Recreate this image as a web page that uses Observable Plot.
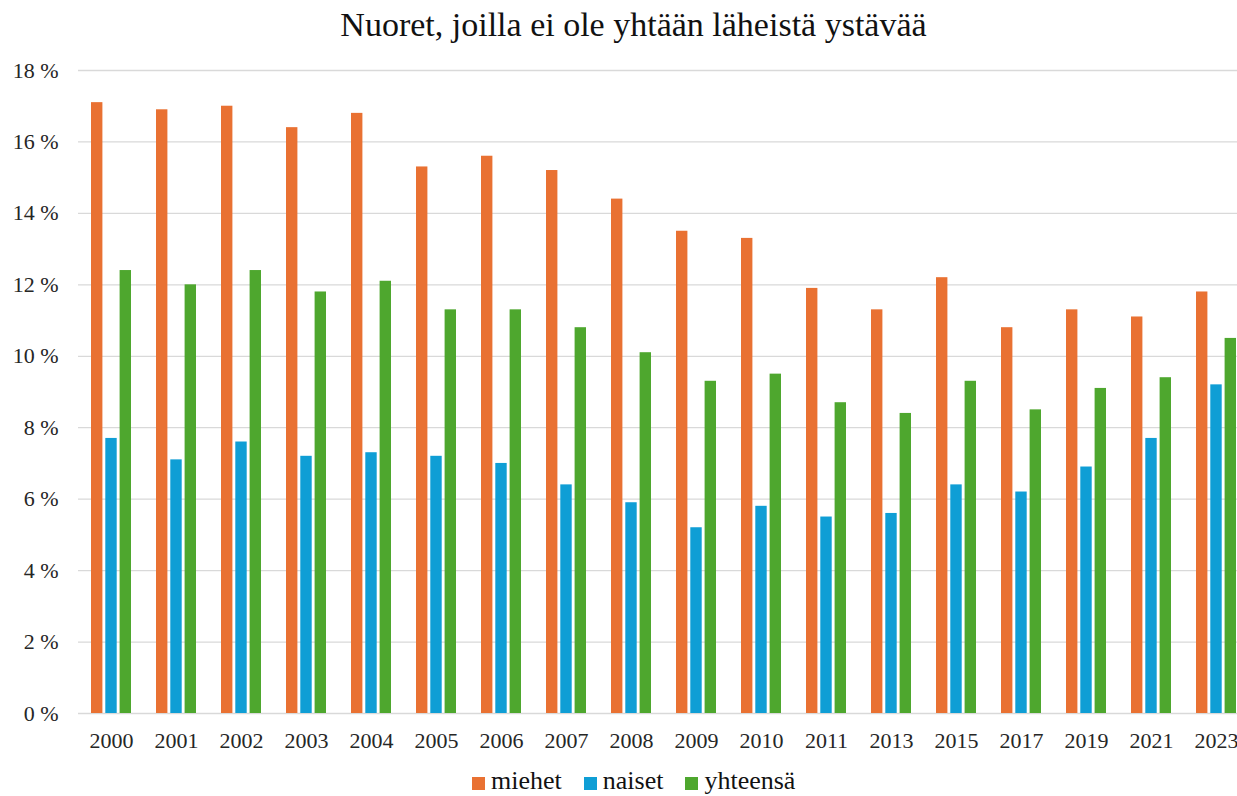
<!DOCTYPE html>
<html>
<head>
<meta charset="utf-8">
<script src="https://cdn.jsdelivr.net/npm/d3@7"></script>
<script src="https://cdn.jsdelivr.net/npm/@observablehq/plot@0.6"></script>
<style>
  html, body { margin: 0; padding: 0; background: #fff; overflow: hidden; width: 1237px; height: 796px; }
  body { font-family: "Liberation Serif", "Times New Roman", serif; position: relative; }
  #title { position: absolute; left: 0; top: 0; width: 1237px; height: 50px; text-align: center; padding-left: 30px; box-sizing: border-box; font-size: 34px; line-height: 50px; color: #111; font-family: "Liberation Serif", serif !important; }
  #chart { position: absolute; left: 0; top: 50px; }
  #chart svg, #chart svg text { font-family: "Liberation Serif", serif !important; }
  #legend { position: absolute; left: 472px; top: 766px; display: flex; align-items: center; font-size: 26px; color: #111; font-family: "Liberation Serif", serif !important; }
  .item { display: flex; align-items: center; margin-right: 22px; }
  .item span { font-family: "Liberation Serif", serif !important; }
  .sw { width: 13px; height: 13px; margin-right: 6px; margin-top: 4px; }
</style>
</head>
<body>
<div id="title">Nuoret, joilla ei ole yhtään läheistä ystävää</div>
<div id="chart"></div>
<div id="legend"></div>
<script>
const years = ["2000","2001","2002","2003","2004","2005","2006","2007","2008","2009","2010","2011","2013","2015","2017","2019","2021","2023"];
const miehet = [17.1,16.9,17.0,16.4,16.8,15.3,15.6,15.2,14.4,13.5,13.3,11.9,11.3,12.2,10.8,11.3,11.1,11.8];
const naiset = [7.7,7.1,7.6,7.2,7.3,7.2,7.0,6.4,5.9,5.2,5.8,5.5,5.6,6.4,6.2,6.9,7.7,9.2];
const yhteensa = [12.4,12.0,12.4,11.8,12.1,11.3,11.3,10.8,10.1,9.3,9.5,8.7,8.4,9.3,8.5,9.1,9.4,10.5];
const seriesNames = ["miehet","naiset","yhteensä"];
const seriesColors = ["#E97132","#0F9ED5","#4EA72E"];
const yTicks = [0,2,4,6,8,10,12,14,16,18];

const seriesValues = [miehet, naiset, yhteensa];
const tables = seriesValues.map((vals, s) => years.map((y, i) => ({year: y, series: seriesNames[s], value: vals[i]})));

// bar placement inside each year band (band width ~40px)
const insets = [[0, 28.6], [14.3, 14.3], [28.6, 0]];

const chart = Plot.plot({
  width: 1237,
  height: 710,
  marginTop: 20,
  marginBottom: 47,
  marginLeft: 78,
  marginRight: -11,
  style: {fontFamily: "Liberation Serif, serif", fontSize: "22px", color: "#262626", background: "white"},
  x: {domain: years, type: "band", paddingInner: 0.385, paddingOuter: 0.1925, label: null, tickSize: 0, tickPadding: 19},
  y: {domain: [0, 18], label: null},
  color: {domain: seriesNames, range: seriesColors},
  marks: [
    Plot.gridY(yTicks, {stroke: "#d9d9d9", strokeOpacity: 1, strokeWidth: 1.3}),
    Plot.axisY(yTicks, {tickSize: 0, tickPadding: 20, tickFormat: d => d + " %", label: null, fontSize: 22, fontFamily: "Liberation Serif"}),
    Plot.axisX({tickSize: 0, tickPadding: 19, label: null, fontSize: 22, fontFamily: "Liberation Serif"}),
    ...tables.map((t, s) => Plot.barY(t, {
      x: "year", y: "value", fill: "series",
      insetLeft: insets[s][0], insetRight: insets[s][1]
    }))
  ]
});
document.getElementById("chart").appendChild(chart);

const legend = document.getElementById("legend");
seriesNames.forEach((n, i) => {
  const it = document.createElement("div");
  it.className = "item";
  const sw = document.createElement("div");
  sw.className = "sw";
  sw.style.background = seriesColors[i];
  const tx = document.createElement("span");
  tx.textContent = n;
  it.appendChild(sw); it.appendChild(tx);
  legend.appendChild(it);
});
</script>
</body>
</html>
